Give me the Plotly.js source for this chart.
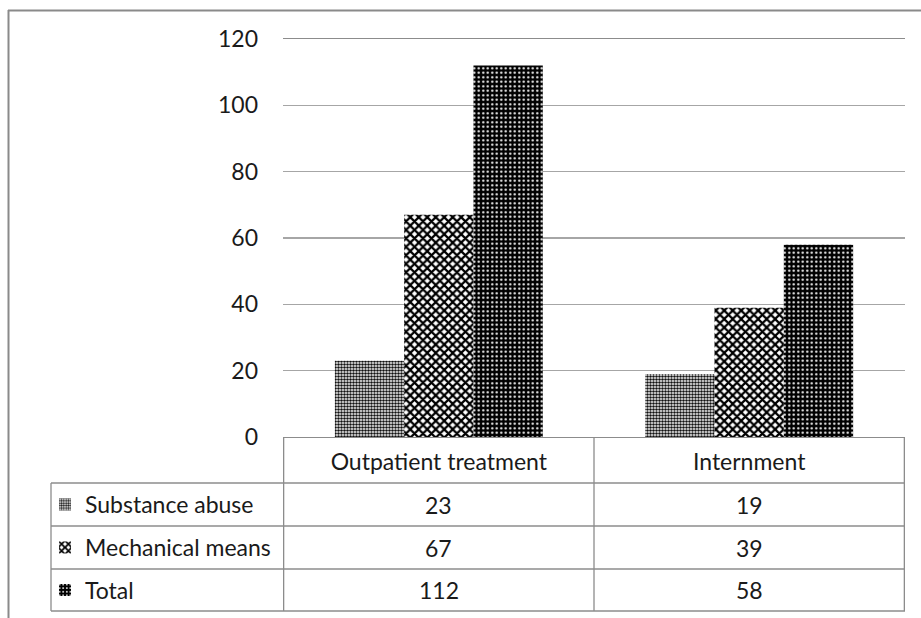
<!DOCTYPE html>
<html>
<head>
<meta charset="utf-8">
<script src="https://cdn.plot.ly/plotly-3.0.1.min.js"></script>
<style>
  html, body { margin: 0; padding: 0; background: #fff; }
  #chart { width: 921px; height: 618px; }
</style>
</head>
<body>
<div id="chart"></div>
<script>
// Care setting categories and counts per group
const categories = ['Outpatient treatment', 'Internment'];
const substanceAbuse = [23, 19];
const mechanicalMeans = [67, 39];
const total = [112, 58];
const seriesNames = ['Substance abuse', 'Mechanical means', 'Total'];
const yTicks = [0, 20, 40, 60, 80, 100, 120];

const seriesValues = [substanceAbuse, mechanicalMeans, total];

const patterns = [
  { shape: '.', fgcolor: '#111111', bgcolor: '#ffffff', size: 3, solidity: 0.55 },
  { shape: 'x', fgcolor: '#000000', bgcolor: '#ffffff', size: 6, solidity: 0.6 },
  { shape: '.', fgcolor: '#ffffff', bgcolor: '#000000', size: 4.5, solidity: 0.2 }
];

// Plot area geometry (pixels) used to lay out the data table below the axis
const W = 921, H = 618;
const L = 283, R = 16, T = 39, B = 181;
const plotW = W - L - R, plotH = H - T - B;
const px2x = p => (p - L) / plotW;        // pixel x -> paper x
const py2y = p => (H - B - p) / plotH;    // pixel y -> paper y

const rowLines = [483, 526, 569, 611];
const rowCenters = [504.5, 547.5, 590];
const tableLeft = 51;
const lineColor = '#8c8c8c';
const legendIds = ['legend', 'legend2', 'legend3'];

const font = { family: 'Lato, "Open Sans", sans-serif', size: 23, color: '#1a1a1a' };

const traces = seriesValues.map((vals, i) => ({
  type: 'bar',
  name: seriesNames[i],
  x: categories,
  y: vals,
  marker: { color: patterns[i].bgcolor, line: { width: 0 }, pattern: patterns[i] },
  hoverinfo: 'x+y+name',
  showlegend: true,
  legend: legendIds[i]
}));

const shapes = [];
// outer chart frame (top and left edges)
shapes.push({ type: 'line', xref: 'paper', yref: 'paper', x0: px2x(8), x1: px2x(925), y0: py2y(10.5), y1: py2y(10.5), line: { color: '#8a8a8a', width: 2 } });
shapes.push({ type: 'line', xref: 'paper', yref: 'paper', x0: px2x(8.5), x1: px2x(8.5), y0: py2y(10), y1: py2y(625), line: { color: '#8a8a8a', width: 2 } });

// table horizontal rules
rowLines.forEach(p => {
  shapes.push({ type: 'line', xref: 'paper', yref: 'paper', x0: px2x(tableLeft), x1: 1, y0: py2y(p), y1: py2y(p), line: { color: lineColor, width: 1.3 } });
});
// table vertical rules at category boundaries
[-0.5, 0.5, 1.5].forEach(xv => {
  shapes.push({ type: 'line', xref: 'x', yref: 'paper', x0: xv, x1: xv, y0: 0, y1: py2y(rowLines[3]), line: { color: lineColor, width: 1.3 } });
});
// left edge of the series-name column
shapes.push({ type: 'line', xref: 'paper', yref: 'paper', x0: px2x(tableLeft), x1: px2x(tableLeft), y0: py2y(rowLines[0]), y1: py2y(rowLines[3]), line: { color: lineColor, width: 1.3 } });

// table values
const annotations = [];
seriesValues.forEach((vals, r) => {
  vals.forEach((v, c) => {
    annotations.push({ xref: 'x', yref: 'paper', x: categories[c], y: py2y(rowCenters[r]), text: String(v), showarrow: false, font, xanchor: 'center', yanchor: 'middle' });
  });
});

const layout = {
  width: W, height: H,
  margin: { l: L, r: R, t: T, b: B, pad: 0, autoexpand: false },
  paper_bgcolor: '#ffffff', plot_bgcolor: '#ffffff',
  barmode: 'group', bargap: 0.33, bargroupgap: 0,
  font,
  xaxis: {
    type: 'category', categoryarray: categories,
    showgrid: false, zeroline: false,
    showline: true, mirror: true, linecolor: lineColor, linewidth: 1.3,
    ticks: '', tickfont: font, ticklabelstandoff: 4
  },
  yaxis: {
    range: [0, 120], tickvals: yTicks, ticktext: yTicks.map(String),
    showgrid: true, gridcolor: '#a6a6a6', gridwidth: 1.2,
    zeroline: false, showline: false, ticks: '',
    tickfont: font, ticklabelstandoff: 24
  },
  shapes, annotations
};

// one row-label legend per table row, each showing its series swatch
legendIds.forEach((id, r) => {
  layout[id] = {
    x: px2x(45), xanchor: 'left', xref: 'paper',
    y: py2y(rowCenters[r]), yanchor: 'middle', yref: 'paper',
    bgcolor: 'rgba(0,0,0,0)', borderwidth: 0,
    font, itemclick: false, itemdoubleclick: false
  };
});

Plotly.newPlot('chart', traces, layout, { staticPlot: true, displayModeBar: false });
</script>
</body>
</html>
